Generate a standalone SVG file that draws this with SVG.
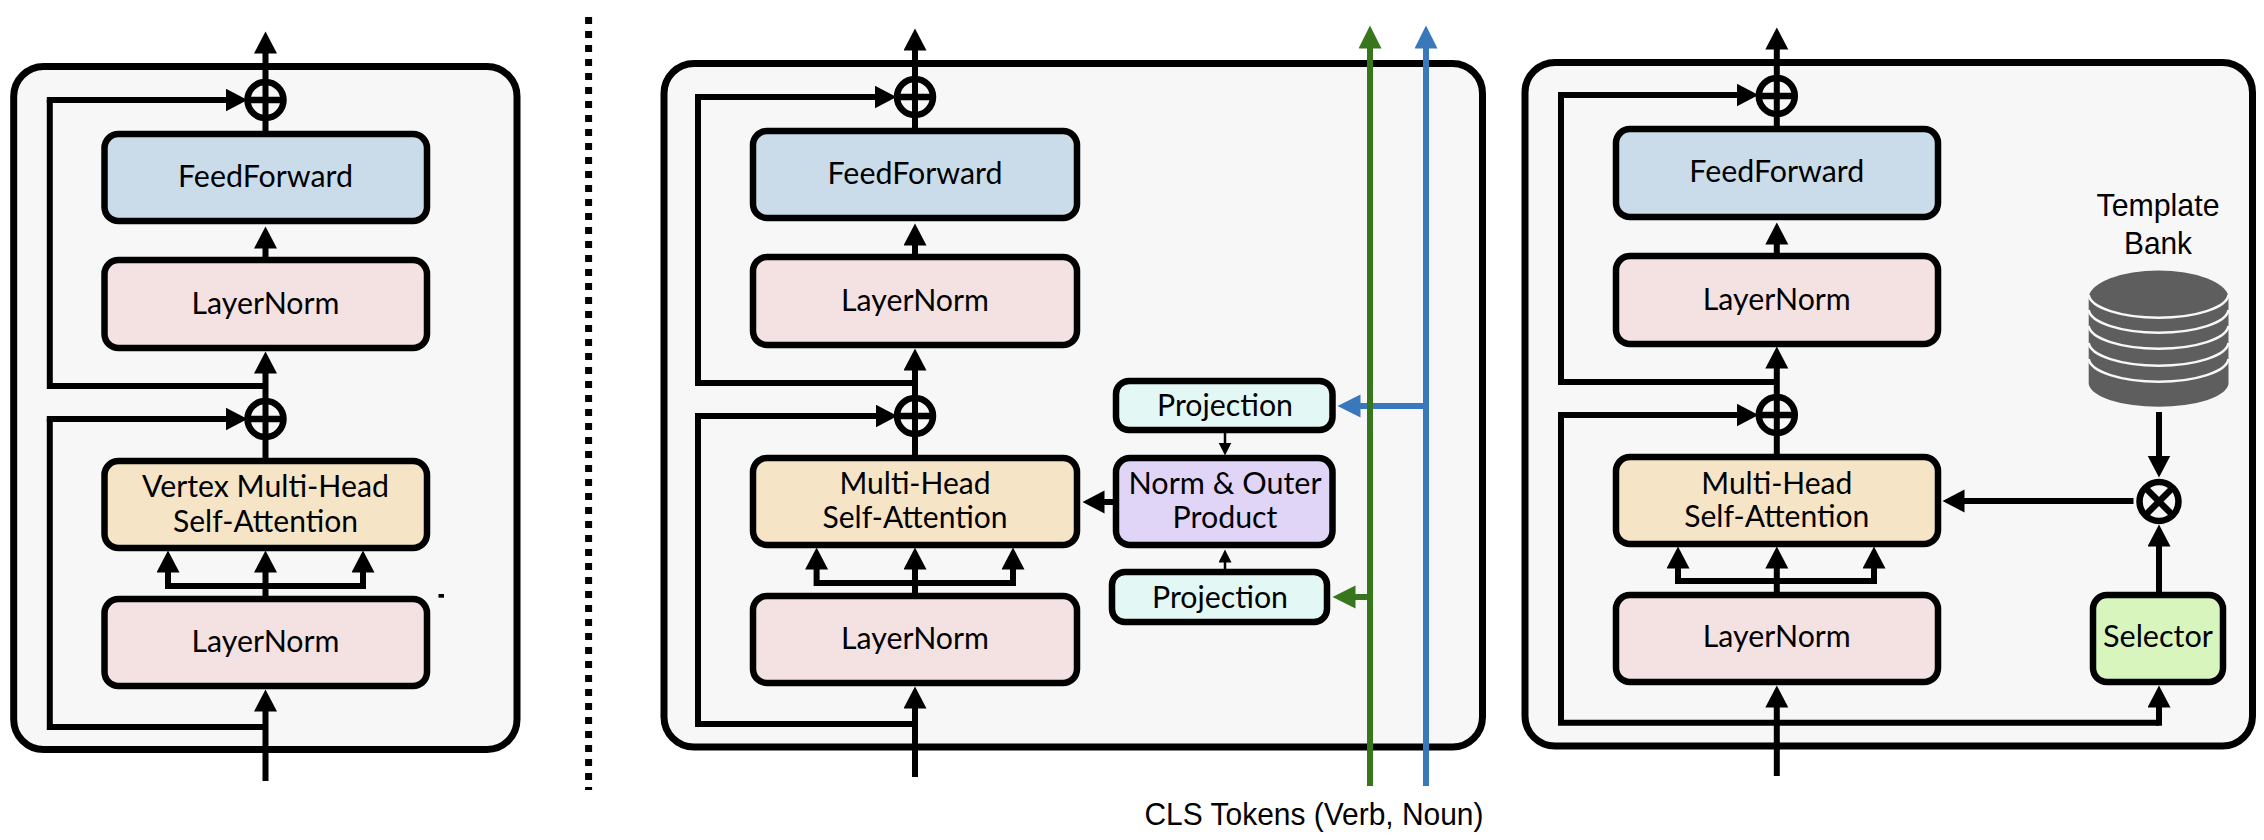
<svg xmlns="http://www.w3.org/2000/svg" width="2264" height="840" viewBox="0 0 2264 840">
<style>
.panel{fill:#f7f7f7;stroke:#000;stroke-width:7}
.box{stroke:#000;stroke-width:6.5}
.ff{fill:#cadcea}.ln{fill:#f4e2e2}.mh{fill:#f6e4c6}.pr{fill:#e3f7f5}.nm{fill:#e1d5f7}.se{fill:#d7f5bc}
.t{font-family:Lato,"Noto Sans",sans-serif;font-size:30px;fill:#000;text-anchor:middle}
.h{font-family:"Liberation Sans",Arial,sans-serif;font-size:30.5px;fill:#000;text-anchor:middle}
.c{fill:none;stroke:#000;stroke-width:6;stroke-linejoin:miter}
.a{marker-end:url(#ah)}
.s{fill:none;stroke:#000;stroke-width:2.5;marker-end:url(#sm)}
.op{fill:none;stroke:#000;stroke-width:6.5}
.disk{fill:#5e5e5e}
.arc{fill:none;stroke:#f7f7f7;stroke-width:2.5}
</style>
<defs>
<marker id="ah" markerUnits="userSpaceOnUse" markerWidth="24" markerHeight="24" refX="0.5" refY="11.5" orient="auto"><polygon points="0,0 22,11.5 0,23" fill="#000"/></marker>
<marker id="sm" markerUnits="userSpaceOnUse" markerWidth="16" markerHeight="14" refX="0.5" refY="6.5" orient="auto"><polygon points="0,0 13,6.5 0,13" fill="#000"/></marker>
<marker id="ag" markerUnits="userSpaceOnUse" markerWidth="24" markerHeight="24" refX="0.5" refY="11.5" orient="auto"><polygon points="0,0 23,11.5 0,23" fill="#38761d"/></marker>
<marker id="ab" markerUnits="userSpaceOnUse" markerWidth="24" markerHeight="24" refX="0.5" refY="11.5" orient="auto"><polygon points="0,0 23,11.5 0,23" fill="#3a78bc"/></marker>
</defs>
<rect width="2264" height="840" fill="#fff"/>
<g id="panels">
<rect id="panel-a" class="panel" x="13.7" y="66.5" width="503.3" height="683" rx="30"/>
<rect id="panel-b" class="panel" x="664" y="63.5" width="818.5" height="683.5" rx="30"/>
<rect id="panel-c" class="panel" x="1525" y="62.5" width="727.5" height="683.5" rx="30"/>
</g>
<line id="divider" x1="588.6" y1="17" x2="588.6" y2="790" stroke="#000" stroke-width="7" stroke-dasharray="7 7"/>
<rect id="speck" x="438.5" y="594" width="5.5" height="3.7" fill="#000"/>
<g id="connectors">
<path class="c a" d="M265.5 134V53"/>
<path class="c a" d="M265.5 260V248"/>
<path class="c a" d="M265.5 461V373"/>
<path class="c" d="M265.5 386H49.8V100"/><path class="c a" d="M46.8 100H226"/>
<path class="c" d="M265.5 727H49.8V419"/><path class="c a" d="M46.8 419H226"/>
<path class="c a" d="M265.5 781V711"/>
<path class="c a" d="M265.5 599V572"/>
<path class="c a" d="M168 589V572"/><path class="c a" d="M363 589V572"/><path class="c" d="M168 586H363"/>

<path class="c a" d="M915 131V50"/>
<path class="c a" d="M915 257V245"/>
<path class="c a" d="M915 458V370"/>
<path class="c" d="M915 383H698V97"/><path class="c a" d="M695 97H875"/>
<path class="c" d="M915 724H698V416"/><path class="c a" d="M695 416H876"/>
<path class="c a" d="M915 777V708"/>
<path class="c a" d="M915 596V569"/>
<path class="c a" d="M816.6 586V569"/><path class="c a" d="M1013 586V569"/><path class="c" d="M816.6 583H1013"/>
<path class="c a" d="M1113 502H1104"/>
<path class="s" d="M1225 433V443"/>
<path class="s" d="M1225 572V562"/>
<path fill="none" stroke="#3a78bc" stroke-width="6" marker-end="url(#ab)" d="M1426 406H1360"/>
<path fill="none" stroke="#38761d" stroke-width="6" marker-end="url(#ag)" d="M1370 597H1355"/>
<path fill="none" stroke="#3a78bc" stroke-width="6" marker-end="url(#ab)" d="M1426 786V48"/>
<path fill="none" stroke="#38761d" stroke-width="6" marker-end="url(#ag)" d="M1370 786V48"/>

<path class="c a" d="M1776.8 129V49"/>
<path class="c a" d="M1776.8 256V244"/>
<path class="c a" d="M1776.8 457V368"/>
<path class="c" d="M1776.8 382H1561V95"/><path class="c a" d="M1558 95H1737"/>
<path class="c" d="M1776.8 722.7H1561V415"/><path class="c a" d="M1558 415H1737"/>
<path class="c a" d="M2159 725.7V707"/><path class="c" d="M1776.8 722.7H2159"/>
<path class="c a" d="M1776.8 776V707"/>
<path class="c a" d="M1776.8 595V568"/>
<path class="c a" d="M1678 584V568"/><path class="c a" d="M1874 584V568"/><path class="c" d="M1678 581H1874"/>
<path class="c a" d="M2133.5 501H1964"/>
<path class="c a" d="M2159 412V456"/>
<path class="c a" d="M2159 595V546"/>
</g>
<g id="a-feedforward"><rect class="box ff" x="104.5" y="134" width="322.5" height="87" rx="14"/><text class="t" x="265.5" y="186.5" textLength="175" lengthAdjust="spacingAndGlyphs">FeedForward</text></g>
<g id="a-layernorm1"><rect class="box ln" x="104.5" y="260" width="322.5" height="88" rx="14"/><text class="t" x="265.5" y="313.5" textLength="148" lengthAdjust="spacingAndGlyphs">LayerNorm</text></g>
<g id="a-attention"><rect class="box mh" x="104.5" y="461" width="322.5" height="87" rx="14"/><text class="t" x="265.5" y="497" textLength="247" lengthAdjust="spacingAndGlyphs">Vertex Multi-Head</text><text class="t" x="265.5" y="531.5" textLength="185" lengthAdjust="spacingAndGlyphs">Self-Attention</text></g>
<g id="a-layernorm2"><rect class="box ln" x="104.5" y="599" width="322.5" height="87" rx="14"/><text class="t" x="265.5" y="652" textLength="148" lengthAdjust="spacingAndGlyphs">LayerNorm</text></g>
<g id="a-add1"><circle class="op" cx="265.5" cy="100" r="18"/><line class="op" x1="247" x2="284" y1="100" y2="100"/></g>
<g id="a-add2"><circle class="op" cx="265.5" cy="419" r="18"/><line class="op" x1="247" x2="284" y1="419" y2="419"/></g>

<g id="b-feedforward"><rect class="box ff" x="753" y="131" width="324" height="87" rx="14"/><text class="t" x="915" y="183.5" textLength="175" lengthAdjust="spacingAndGlyphs">FeedForward</text></g>
<g id="b-layernorm1"><rect class="box ln" x="753" y="257" width="324" height="88" rx="14"/><text class="t" x="915" y="311" textLength="148" lengthAdjust="spacingAndGlyphs">LayerNorm</text></g>
<g id="b-attention"><rect class="box mh" x="753" y="458" width="324" height="87" rx="14"/><text class="t" x="915" y="494" textLength="151" lengthAdjust="spacingAndGlyphs">Multi-Head</text><text class="t" x="915" y="528" textLength="185" lengthAdjust="spacingAndGlyphs">Self-Attention</text></g>
<g id="b-layernorm2"><rect class="box ln" x="753" y="596" width="324" height="87" rx="14"/><text class="t" x="915" y="648.5" textLength="148" lengthAdjust="spacingAndGlyphs">LayerNorm</text></g>
<g id="b-add1"><circle class="op" cx="915" cy="97" r="18"/><line class="op" x1="897" x2="933" y1="97" y2="97"/></g>
<g id="b-add2"><circle class="op" cx="915" cy="416" r="18"/><line class="op" x1="897" x2="933" y1="416" y2="416"/></g>
<g id="b-projection1"><rect class="box pr" x="1116" y="381" width="216.5" height="49" rx="13"/><text class="t" x="1225" y="416" textLength="136" lengthAdjust="spacingAndGlyphs">Projection</text></g>
<g id="b-norm"><rect class="box nm" x="1116" y="458" width="216.5" height="87" rx="14"/><text class="t" x="1225" y="494" textLength="193" lengthAdjust="spacingAndGlyphs">Norm &amp; Outer</text><text class="t" x="1225" y="528" textLength="105" lengthAdjust="spacingAndGlyphs">Product</text></g>
<g id="b-projection2"><rect class="box pr" x="1112" y="572" width="215" height="50" rx="13"/><text class="t" x="1220" y="608" textLength="136" lengthAdjust="spacingAndGlyphs">Projection</text></g>
<text id="cls-label" class="h" x="1314" y="825" textLength="339" lengthAdjust="spacingAndGlyphs">CLS Tokens (Verb, Noun)</text>

<g id="c-feedforward"><rect class="box ff" x="1616" y="129" width="322" height="88" rx="14"/><text class="t" x="1776.8" y="182" textLength="175" lengthAdjust="spacingAndGlyphs">FeedForward</text></g>
<g id="c-layernorm1"><rect class="box ln" x="1616" y="256" width="322" height="88" rx="14"/><text class="t" x="1776.8" y="310" textLength="148" lengthAdjust="spacingAndGlyphs">LayerNorm</text></g>
<g id="c-attention"><rect class="box mh" x="1616" y="457" width="322" height="87" rx="14"/><text class="t" x="1776.8" y="493.5" textLength="151" lengthAdjust="spacingAndGlyphs">Multi-Head</text><text class="t" x="1776.8" y="527" textLength="185" lengthAdjust="spacingAndGlyphs">Self-Attention</text></g>
<g id="c-layernorm2"><rect class="box ln" x="1616" y="595" width="322" height="87" rx="14"/><text class="t" x="1776.8" y="647" textLength="148" lengthAdjust="spacingAndGlyphs">LayerNorm</text></g>
<g id="c-add1"><circle class="op" cx="1776.8" cy="96" r="18"/><line class="op" x1="1758" x2="1795" y1="96" y2="96"/></g>
<g id="c-add2"><circle class="op" cx="1776.8" cy="415" r="18"/><line class="op" x1="1758" x2="1795" y1="415" y2="415"/></g>
<g id="c-selector"><rect class="box se" x="2093" y="595" width="130" height="87" rx="14"/><text class="t" x="2158" y="647" textLength="110" lengthAdjust="spacingAndGlyphs">Selector</text></g>
<g id="c-multiply"><circle class="op" cx="2159" cy="501.5" r="19.5"/><line class="op" x1="2145.5" y1="488" x2="2172.5" y2="515"/><line class="op" x1="2172.5" y1="488" x2="2145.5" y2="515"/></g>
<g id="c-bank">
<text class="h" x="2158" y="216" textLength="123" lengthAdjust="spacingAndGlyphs">Template</text>
<text class="h" x="2158" y="254" textLength="68" lengthAdjust="spacingAndGlyphs">Bank</text>
<path class="disk" d="M2088.7 297A70 28 0 0 1 2228.5 297V384A70 24 0 0 1 2088.7 384Z"/>
<path class="arc" d="M2088.7 295A70 24 0 0 0 2228.5 295"/>
<path class="arc" d="M2088.7 310A70 24 0 0 0 2228.5 310"/>
<path class="arc" d="M2088.7 326A70 24 0 0 0 2228.5 326"/>
<path class="arc" d="M2088.7 343A70 24 0 0 0 2228.5 343"/>
<path class="arc" d="M2088.7 359A70 24 0 0 0 2228.5 359"/>
</g>
</svg>
